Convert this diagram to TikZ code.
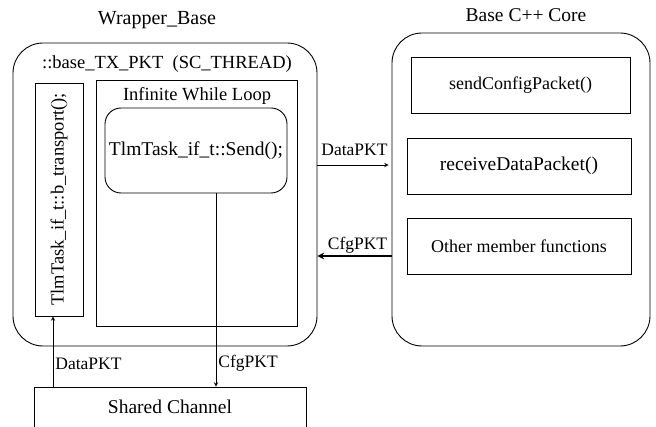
\documentclass[tikz,border=0pt]{standalone}
\usepackage{fontspec}
\setmainfont{Liberation Serif}
\usetikzlibrary{arrows}
\tikzstyle{block} = [rectangle, draw=black, line width=0.9pt, inner sep=0pt, text centered, font=\fontsize{19.5}{21}\selectfont]
\tikzstyle{module} = [block, rounded corners=30pt]
\tikzstyle{task} = [block, rounded corners=16pt]
\tikzstyle{title} = [inner sep=0pt, font=\fontsize{18.5}{20}\selectfont]
\tikzstyle{lbl} = [inner sep=2pt, font=\fontsize{17.5}{19}\selectfont]
\tikzstyle{arrow} = [line width=0.9pt,->,>=stealth]
\tikzstyle{thickarrow} = [line width=2pt,->,>=stealth]

\begin{document}
\begin{tikzpicture}[x=1pt, y=1pt, node distance=80pt]
\useasboundingbox (0,0) rectangle (656,426);
\clip (0,0) rectangle (656,426);

%% outer blocks and titles
\node (wrapper) [module, minimum width=304pt, minimum height=303pt] at (165,231.5) {};
\node (core)    [module, minimum width=258pt, minimum height=313pt] at (521,236.5) {};
\node (wrapTitle)   [title, font=\fontsize{20}{22}\selectfont] at (157,406) {Wrapper\_Base};
\node (coreTitle)   [title, font=\fontsize{19.5}{21}\selectfont] at (526,411) {Base C++ Core};
\node (threadTitle) [title] at (167,362) {::base\_TX\_PKT\ \ (SC\_THREAD)};

%% thread contents
\node (transport) [block, minimum width=48pt, minimum height=233pt, font=\fontsize{18.5}{20}\selectfont] at (59,226.5) {\rotatebox{90}{TlmTask\_if\_t::b\_transport();}};
\node (loop)      [block, minimum width=201pt, minimum height=246pt] at (196.5,223) {};
\node (loopTitle) [title] at (197,330) {Infinite While Loop};
\node (send)      [task, minimum width=182pt, minimum height=85pt] at (196,275.5) {TlmTask\_if\_t::Send();};

%% member functions
\node (cfgfn)   [block, minimum width=219pt, minimum height=56pt, font=\fontsize{18}{20}\selectfont] at (520.5,341) {sendConfigPacket()};
\node (rxfn)    [block, minimum width=224pt, minimum height=56pt, below of=cfgfn, xshift=-1.5pt, yshift=-1pt] {receiveDataPacket()};
\node (otherfn) [block, minimum width=224pt, minimum height=56pt, below of=rxfn, font=\fontsize{18}{20}\selectfont] {Other member functions};

\node (channel) [block, minimum width=272pt, minimum height=40pt] at (170,19) {Shared Channel};

%% Draw the connectivity.
\draw [arrow, shorten >=3pt] ([yshift=29.5pt]wrapper.east) -- node[lbl, anchor=south, yshift=7pt]{DataPKT} ([yshift=24.5pt]core.west);
\draw [thickarrow] ([yshift=-66.5pt]core.west) -- node[lbl, anchor=south, xshift=3pt]{CfgPKT} ([yshift=-61.5pt]wrapper.east);
\draw [arrow] ([xshift=-6pt]transport.south |- channel.north) -- node[lbl, anchor=west, pos=0.32]{DataPKT} ([xshift=-6pt]transport.south);
\draw [arrow] ([xshift=20pt]send.south) -- node[lbl, anchor=west, pos=0.88]{CfgPKT} ([xshift=20pt]send.south |- channel.north);
\end{tikzpicture}
\end{document}
